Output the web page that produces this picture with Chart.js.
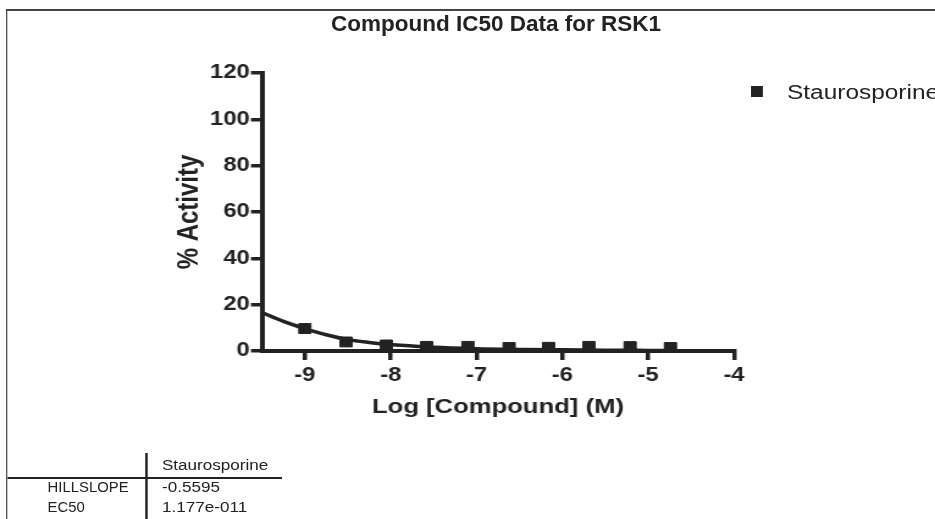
<!DOCTYPE html>
<html>
<head>
<meta charset="utf-8">
<script src="https://cdn.jsdelivr.net/npm/chart.js@4/dist/chart.umd.min.js"></script>
<style>
html, body { margin: 0; padding: 0; background: #fff; }
body { width: 935px; height: 519px; position: relative; overflow: hidden; font-family: 'Liberation Sans', Arial, sans-serif; color: #222; }
/* the original picture is stretched sideways, so the whole graph is drawn narrow and scaled */
#stage { position: absolute; left: 0; top: 0; width: 766px; height: 519px; transform: scaleX(1.2206); transform-origin: 0 0; }
#stage canvas { position: absolute; left: 0; top: 0; }
.abs { position: absolute; white-space: nowrap; }
.line { position: absolute; background: #222; }
#title { left: 296px; top: 11px; width: 400px; text-align: center; font-weight: bold; font-size: 22.5px; line-height: 26px; }
.legend-text { font-size: 20px; line-height: 24px; }
.tbl { font-size: 14px; line-height: 16px; }
.narrow { transform: scaleX(0.87); transform-origin: 0 0; }
</style>
</head>
<body>
<div class="line" style="left:6px;top:9px;width:929px;height:1.5px;background:#444"></div>
<div id="stage">
  <canvas id="ic50" width="766" height="519"></canvas>
  <div class="line" style="left:5px;top:9px;width:1.3px;height:510px;background:#444"></div>

  <div class="line" style="left:615px;top:86px;width:10px;height:11px"></div>
  <div class="abs legend-text" style="left:644.8px;top:80px">Staurosporine</div>

  <div class="line" style="left:118.6px;top:453px;width:2.2px;height:66px"></div>
  <div class="line" style="left:5.7px;top:477px;width:225px;height:2px"></div>
  <div class="abs tbl" id="col-head" style="left:132.7px;top:457px"></div>
  <div class="abs tbl narrow" id="row1-name" style="left:39.3px;top:479px"></div>
  <div class="abs tbl" id="row1-val" style="left:132.7px;top:479px"></div>
  <div class="abs tbl narrow" id="row2-name" style="left:39.3px;top:499px"></div>
  <div class="abs tbl" id="row2-val" style="left:132.7px;top:499px"></div>
</div>
<div class="abs" id="title">Compound IC50 Data for RSK1</div>

<script>
// measured points (log M, % activity)
const dataX = [-9.00, -8.52, -8.05, -7.58, -7.10, -6.62, -6.16, -5.69, -5.21, -4.74];
const dataY = [9.7, 3.9, 2.6, 2.0, 2.0, 1.5, 1.6, 2.0, 1.9, 1.5];

// fitted curve
const curveX = [-9.5, -9.25, -9.0, -8.75, -8.5, -8.25, -8.0, -7.75, -7.5, -7.0, -6.5, -6.0, -5.5, -5.0, -4.7];
const curveY = [16.6, 12.8, 9.7, 7.0, 4.9, 3.7, 2.8, 2.2, 1.6, 1.0, 0.7, 0.5, 0.35, 0.25, 0.2];

const xTicks = [-9, -8, -7, -6, -5, -4];
const yTicks = [0, 20, 40, 60, 80, 100, 120];

const seriesName = "Staurosporine";
const paramNames = ["HILLSLOPE", "EC50"];
const paramValues = ["-0.5595", "1.177e-011"];

document.getElementById("col-head").textContent = seriesName;
document.getElementById("row1-name").textContent = paramNames[0];
document.getElementById("row1-val").textContent = paramValues[0];
document.getElementById("row2-name").textContent = paramNames[1];
document.getElementById("row2-val").textContent = paramValues[1];

const ink = "#222";
const fam = "'Liberation Sans', Arial, sans-serif";

function axisStyle(title, titleSize) {
    return {
        type: "linear",
        grid: { drawOnChartArea: false, drawTicks: true, tickLength: 9, lineWidth: 3.5, color: ink },
        border: { display: true, width: 4, color: ink },
        ticks: { color: ink, font: { family: fam, size: 19.5, weight: "bold" }, autoSkip: false, maxRotation: 0 },
        title: { display: true, text: title, color: ink, padding: 0, font: { family: fam, size: titleSize, weight: "bold" } }
    };
}

const xAxis = axisStyle("Log [Compound] (M)", 21);
xAxis.min = -9.5;
xAxis.max = -4;
xAxis.ticks.padding = 4;
xAxis.afterBuildTicks = s => { s.ticks = xTicks.map(v => ({ value: v })); };
xAxis.afterFit = s => { s.height = 69; };

const yAxis = axisStyle("% Activity", 24);
yAxis.min = 0;
yAxis.max = 120;
yAxis.ticks.padding = 1;
yAxis.afterBuildTicks = s => { s.ticks = yTicks.map(v => ({ value: v })); };
yAxis.afterFit = s => { s.width = 74; };

new Chart(document.getElementById("ic50"), {
    type: "scatter",
    data: {
        datasets: [
            {
                label: seriesName + " fit",
                data: curveX.map((x, i) => ({ x: x, y: curveY[i] })),
                showLine: true,
                pointRadius: 0,
                borderColor: ink,
                borderWidth: 3.5,
                cubicInterpolationMode: "monotone",
                clip: 4
            },
            {
                label: seriesName,
                data: dataX.map((x, i) => ({ x: x, y: dataY[i] })),
                pointStyle: "rect",
                pointRadius: 7,
                pointBorderWidth: 1,
                backgroundColor: ink,
                borderColor: ink,
                clip: false
            }
        ]
    },
    options: {
        responsive: false,
        animation: false,
        events: [],
        layout: { padding: { left: 140.6, top: 73, right: 164.7, bottom: 99 } },
        plugins: { legend: { display: false }, tooltip: { enabled: false } },
        scales: { x: xAxis, y: yAxis }
    }
});
</script>
</body>
</html>
